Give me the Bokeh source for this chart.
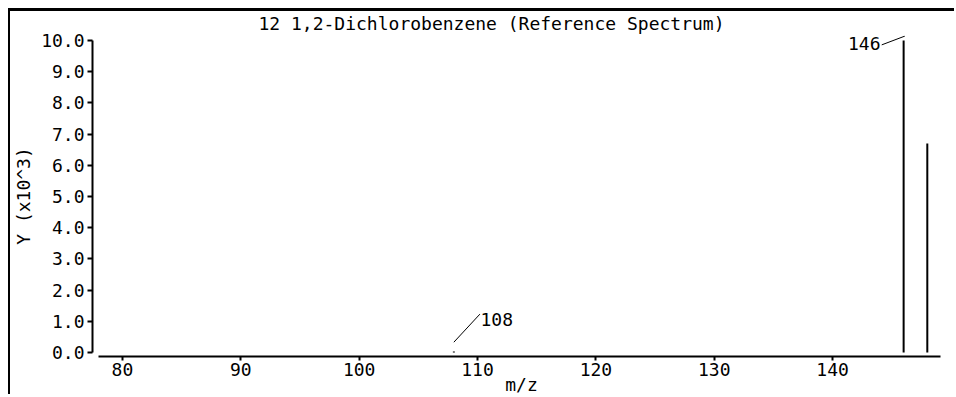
from bokeh.plotting import figure
from bokeh.models import ColumnDataSource, Range1d, FixedTicker, PrintfTickFormatter, Label
from bokeh.embed import file_html
from bokeh.resources import INLINE

# ---- data ----
title_text = "12 1,2-Dichlorobenzene (Reference Spectrum)"
mz = [108, 146, 148]
abundance = [30, 10000, 6700]          # raw counts
y_scale = 1000                          # axis shows Y (x10^3)
x_ticks = [80, 90, 100, 110, 120, 130, 140]
y_ticks = [0, 1, 2, 3, 4, 5, 6, 7, 8, 9, 10]
labeled_mz = [108, 146]
x_label = "m/z"
y_label = "Y (x10^3)"

# ---- style ----
FONT = "DejaVu Sans Mono"
FS = "18px"
# per-label leader-line / text offsets (data units)
label_style = {
    108: dict(dx0=0.0, dy0=0.3, dx1=2.2, dy1=1.2, tx=2.25, ty=1.03, align="left"),
    146: dict(dx0=0.1, dy0=0.14, dx1=-1.85, dy1=-0.14, tx=-1.95, ty=-0.1, align="right"),
}

ys = [a / y_scale for a in abundance]
src = ColumnDataSource(dict(mz=mz, y=ys, y0=[0] * len(mz)))

p = figure(width=946, height=386, output_backend="svg", toolbar_location=None,
           x_range=Range1d(77.47, 149.96), y_range=Range1d(-0.128, 10.16),
           min_border_left=81, min_border_right=6, min_border_top=24,
           min_border_bottom=41, title=title_text, margin=(8, 0, 0, 8))
p.styles = {"border-left": "2px solid black", "border-top": "3px solid black"}

p.background_fill_color = "white"
p.border_fill_color = "white"
p.outline_line_color = None
p.grid.visible = False

p.title.text_font = FONT
p.title.text_font_size = FS
p.title.text_font_style = "normal"
p.title.text_color = "black"
p.title.align = "left"
p.title.vertical_align = "top"
p.title.offset = 166
p.title.standoff = 0

xa = p.xaxis[0]
xa.ticker = FixedTicker(ticks=x_ticks)
xa.bounds = (77.97, 149.11)
xa.axis_line_width = 2
xa.major_tick_line_width = 2
xa.major_tick_out = 4
xa.major_tick_in = 0
xa.minor_tick_out = 0
xa.minor_tick_in = 0
xa.major_label_standoff = 2
xa.axis_label = x_label
xa.axis_label_standoff = -5

ya = p.yaxis[0]
ya.ticker = FixedTicker(ticks=y_ticks)
ya.formatter = PrintfTickFormatter(format="%.1f")
ya.bounds = (0, 10)
ya.axis_line_width = 2
ya.major_tick_line_width = 2
ya.major_tick_out = 5
ya.major_tick_in = 0
ya.minor_tick_out = 0
ya.minor_tick_in = 0
ya.major_label_standoff = 3
ya.axis_label = y_label
ya.axis_label_standoff = 4

for ax in (xa, ya):
    ax.major_label_text_font = FONT
    ax.major_label_text_font_size = FS
    ax.major_label_text_color = "black"
    ax.axis_label_text_font = FONT
    ax.axis_label_text_font_size = FS
    ax.axis_label_text_font_style = "normal"
    ax.axis_label_text_color = "black"
    ax.axis_line_color = "black"
    ax.major_tick_line_color = "black"

# spectrum sticks
p.segment(x0="mz", y0="y0", x1="mz", y1="y", source=src, line_width=2, line_color="black")

# peak annotations with leader lines
for m in labeled_mz:
    yv = ys[mz.index(m)]
    s = label_style[m]
    p.segment(x0=[m + s["dx0"]], y0=[yv + s["dy0"]], x1=[m + s["dx1"]], y1=[yv + s["dy1"]],
              line_width=1, line_color="black")
    p.add_layout(Label(x=m + s["tx"], y=yv + s["ty"], text=str(m), text_align=s["align"],
                       text_baseline="middle", text_font=FONT, text_font_size=FS,
                       text_color="black"))

open("out.html", "w").write(file_html(p, INLINE))
